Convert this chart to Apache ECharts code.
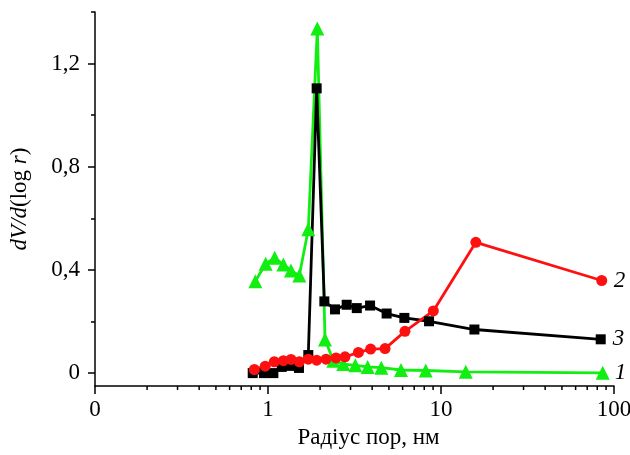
<!DOCTYPE html>
<html>
<head>
<meta charset="utf-8">
<script src="https://cdn.jsdelivr.net/npm/echarts@6/dist/echarts.min.js"></script>
<style>html,body{margin:0;padding:0;background:#fff}#c{width:630px;height:455px}</style>
</head>
<body>
<div id="c"></div>
<script>
// Series 1 (green triangles)
const s1X = [0.845,0.969,1.093,1.227,1.358,1.517,1.71,1.928,2.136,2.386,2.725,3.196,3.77,4.52,5.87,8.16,13.9,86];
const s1Y = [0.356,0.424,0.447,0.421,0.398,0.378,0.558,1.336,0.130,0.048,0.035,0.030,0.024,0.021,0.012,0.010,0.005,0.001];
// Series 2 (red circles)
const s2X = [0.834,0.964,1.088,1.227,1.358,1.517,1.71,1.911,2.165,2.472,2.787,3.33,3.92,4.75,6.19,9.03,15.9,84.9];
const s2Y = [0.014,0.027,0.044,0.048,0.053,0.044,0.054,0.050,0.054,0.059,0.063,0.080,0.093,0.095,0.162,0.241,0.507,0.359];
// Series 3 (black squares)
const s3X = [0.816,0.948,1.074,1.2,1.34,1.51,1.71,1.911,2.117,2.44,2.85,3.26,3.89,4.85,6.14,8.53,15.6,83.8];
const s3Y = [0,0,0,0.024,0.028,0.020,0.070,1.104,0.278,0.247,0.265,0.252,0.262,0.231,0.214,0.201,0.169,0.131];

const yMajorTicks = [0, 0.4, 0.8, 1.2];
const yMinorTicks = [0.2, 0.6, 1.0, 1.4];
const xMinorTicks = [0.2,0.3,0.4,0.5,0.6,0.7,0.8,0.9,2,3,4,5,6,7,8,9,20,30,40,50,60,70,80,90];
const xMin = 0.1, xMax = 100, yMin = -0.05, yMax = 1.4;

const FONT = '"Liberation Serif", "Times New Roman", serif';
const zip = (xs, ys) => xs.map((x, i) => [x, ys[i]]);

const chart = echarts.init(document.getElementById('c'), null, {renderer: 'canvas'});
const endLabel = {
  show: true, formatter: '{a}', distance: 12,
  fontFamily: FONT, fontStyle: 'italic', fontSize: 23, color: '#000'
};
chart.setOption({
  animation: false,
  grid: {left: 95, right: 16, top: 12, bottom: 69, containLabel: false, outerBoundsMode: 'none'},
  xAxis: {
    type: 'log', logBase: 10, min: xMin, max: xMax,
    name: 'Радіус пор, нм', nameLocation: 'middle', nameGap: 40,
    nameTextStyle: {fontFamily: FONT, fontSize: 23, color: '#000', padding: [0, 0, 0, 28]},
    axisLine: {onZero: false, lineStyle: {color: '#000', width: 1.5}},
    axisTick: {length: 8, lineStyle: {color: '#000', width: 1.5}},
    axisLabel: {fontFamily: FONT, fontSize: 23, color: '#000', margin: 12,
      formatter: v => v < 0.5 ? '0' : String(Math.round(v))},
    splitLine: {show: false}
  },
  yAxis: [{
    type: 'value', min: yMin, max: yMax,
    name: '{i|dV/d}{n|(log }{i|r}{n|)}', nameLocation: 'middle', nameGap: 64, nameRotate: 90,
    nameTextStyle: {fontFamily: FONT, fontSize: 23, color: '#000',
      rich: {i: {fontFamily: FONT, fontSize: 23, fontStyle: 'italic', color: '#000'},
             n: {fontFamily: FONT, fontSize: 23, color: '#000'}}},
    axisLine: {show: true, onZero: false, lineStyle: {color: '#000', width: 1.5}},
    axisTick: {show: true, length: 7, customValues: yMajorTicks, lineStyle: {color: '#000', width: 1.5}},
    axisLabel: {fontFamily: FONT, fontSize: 23, color: '#000', margin: 15, customValues: yMajorTicks,
      formatter: v => String(v).replace('.', ',')},
    splitLine: {show: false}
  }, {
    type: 'value', min: yMin, max: yMax, position: 'left', offset: 0,
    axisLine: {show: false},
    axisTick: {show: true, length: 4, customValues: yMinorTicks, lineStyle: {color: '#000', width: 1.5}},
    axisLabel: {show: false},
    splitLine: {show: false}
  }],
  series: [
    {
      type: 'custom', name: 'xminor', silent: true, clip: false,
      data: xMinorTicks.map(v => [v, yMin]),
      renderItem: (params, api) => {
        const p = api.coord([api.value(0), api.value(1)]);
        return {type: 'line', shape: {x1: p[0], y1: p[1], x2: p[0], y2: p[1] + 4},
          style: {stroke: '#000', lineWidth: 1.5}};
      }
    },
    {
      type: 'line', name: '1', data: zip(s1X, s1Y),
      symbol: 'triangle', symbolSize: 14,
      itemStyle: {color: '#11ee11'}, lineStyle: {color: '#11ee11', width: 2.8},
      endLabel: endLabel
    },
    {
      type: 'line', name: '3', data: zip(s3X, s3Y),
      symbol: 'rect', symbolSize: 10,
      itemStyle: {color: '#000'}, lineStyle: {color: '#000', width: 2.8},
      endLabel: endLabel
    },
    {
      type: 'line', name: '2', data: zip(s2X, s2Y),
      symbol: 'circle', symbolSize: 11,
      itemStyle: {color: '#ff1010'}, lineStyle: {color: '#ff1010', width: 2.8},
      endLabel: endLabel
    }
  ]
});
</script>
</body>
</html>
